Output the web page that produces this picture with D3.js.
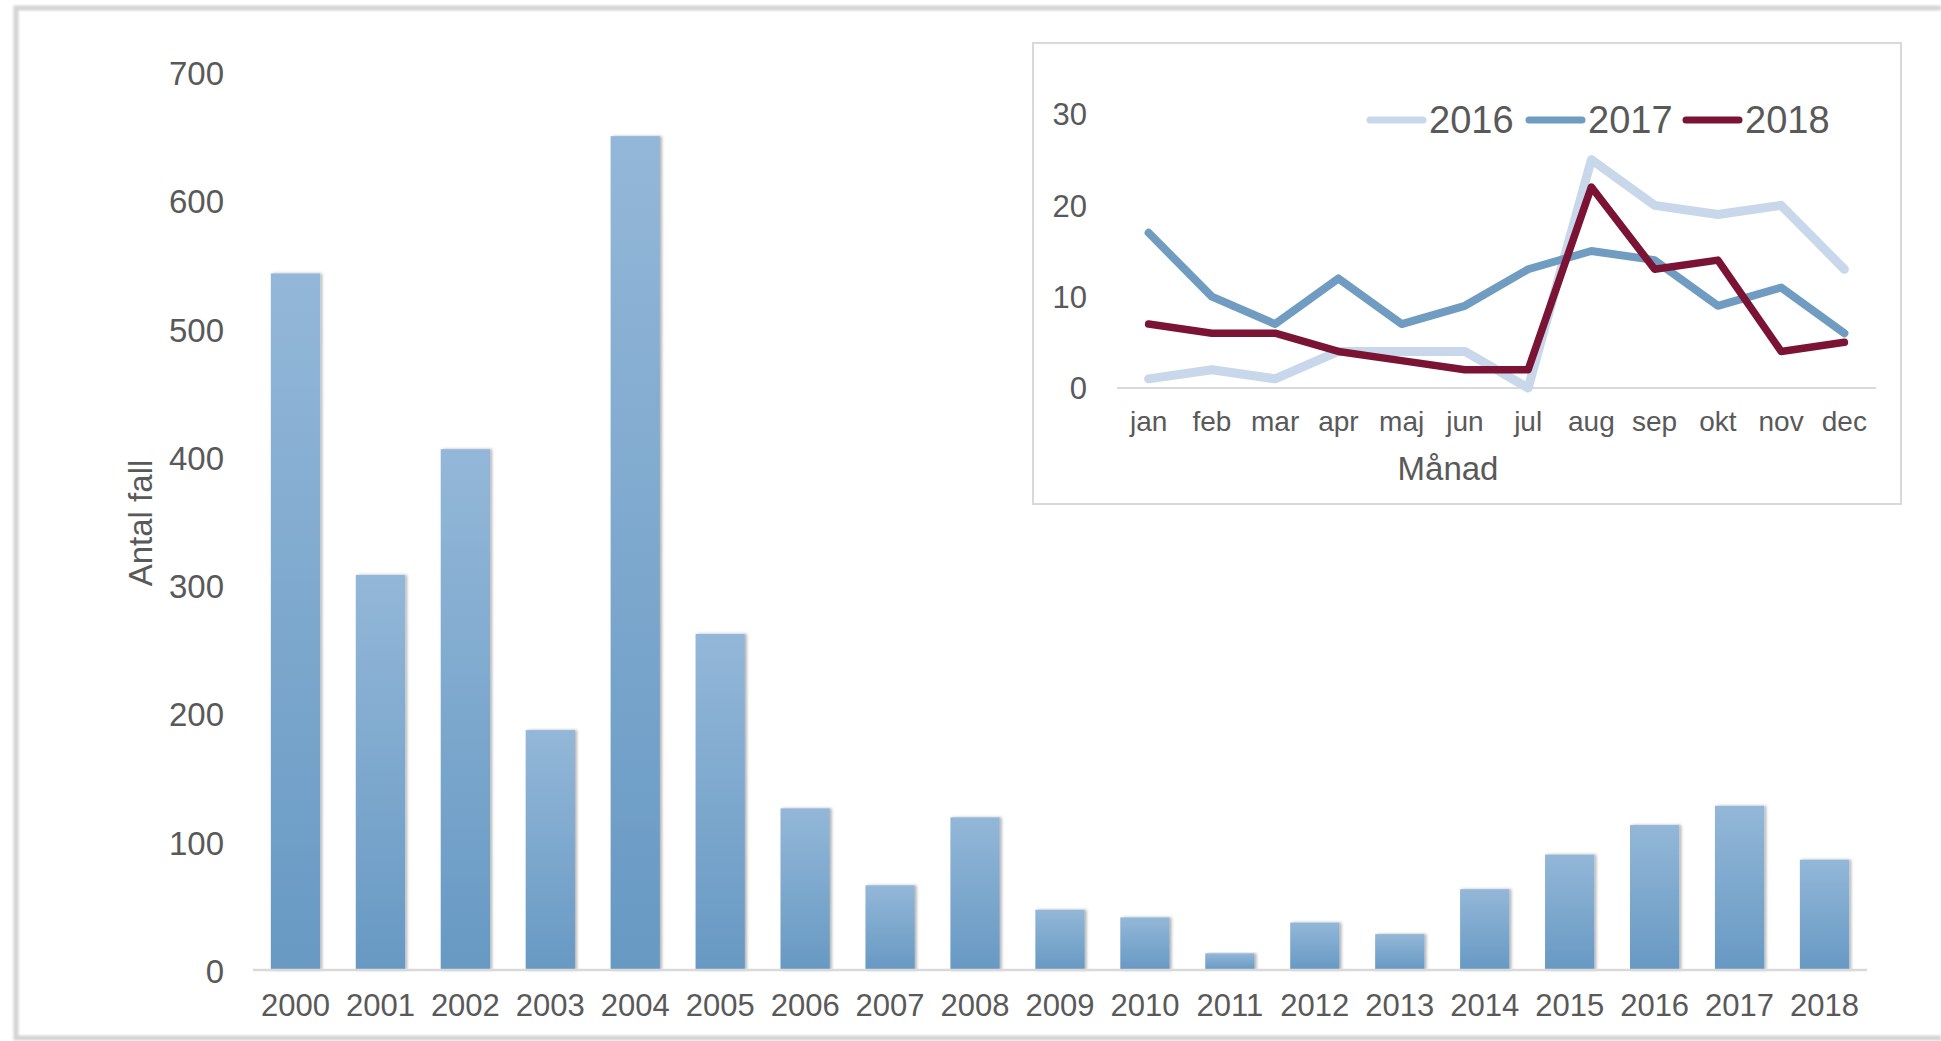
<!DOCTYPE html>
<html>
<head>
<meta charset="utf-8">
<script src="https://cdn.jsdelivr.net/npm/d3@7"></script>
<style>
    html, body { margin: 0; padding: 0; background: #fff; }
    svg { display: block; font-family: "Liberation Sans", Arial, sans-serif; }
</style>
</head>
<body>
<svg id="chart" width="1941" height="1041"></svg>
<script>
// Yearly totals (main bar chart)
const years = ["2000", "2001", "2002", "2003", "2004", "2005", "2006", "2007", "2008", "2009",
    "2010", "2011", "2012", "2013", "2014", "2015", "2016", "2017", "2018"];
const cases = [543, 308, 406, 187, 650, 262, 126, 66, 119, 47, 41, 13, 37, 28, 63, 90, 113, 128, 86];
const yTicks = [0, 100, 200, 300, 400, 500, 600, 700];

// Monthly counts (inset)
const months = ["jan", "feb", "mar", "apr", "maj", "jun", "jul", "aug", "sep", "okt", "nov", "dec"];
const cases2016 = [1, 2, 1, 4, 4, 4, 0, 25, 20, 19, 20, 13];
const cases2017 = [17, 10, 7, 12, 7, 9, 13, 15, 14, 9, 11, 6];
const cases2018 = [7, 6, 6, 4, 3, 2, 2, 22, 13, 14, 4, 5];
const seriesNames = ["2016", "2017", "2018"];
const insetTicks = [0, 10, 20, 30];

const textColor = "#595959";
const svg = d3.select("#chart");
const defs = svg.append("defs");

// soft edge for the frame
defs.append("filter").attr("id", "soft")
    .append("feGaussianBlur").attr("stdDeviation", 1.2);

const grad = defs.append("linearGradient").attr("id", "barGrad")
    .attr("x1", 0).attr("y1", 0).attr("x2", 0).attr("y2", 1);
grad.append("stop").attr("offset", "0%").attr("stop-color", "#93b7d8");
grad.append("stop").attr("offset", "100%").attr("stop-color", "#6799c3");

const shadow = defs.append("filter").attr("id", "barShadow")
    .attr("x", "-20%").attr("y", "-5%").attr("width", "150%").attr("height", "110%");
shadow.append("feDropShadow").attr("dx", 2).attr("dy", 0).attr("stdDeviation", 1.5)
    .attr("flood-color", "#000").attr("flood-opacity", 0.3);

// outer frame
svg.append("path")
    .attr("d", "M1941,8 L16,8 L16,1038 L1941,1038")
    .attr("fill", "none").attr("stroke", "#d4d4d4").attr("stroke-width", 5)
    .attr("filter", "url(#soft)");

// ---- main bar chart ----
const x = d3.scaleBand().domain(years).range([253, 1867]).paddingInner(0.42).paddingOuter(0.21);
const y = d3.scaleLinear().domain([0, 700]).range([970, 72]);

svg.append("g").selectAll("rect")
    .data(years)
    .join("rect")
    .attr("x", d => x(d))
    .attr("y", (d, i) => y(cases[i]))
    .attr("width", x.bandwidth())
    .attr("height", (d, i) => y(0) - y(cases[i]))
    .attr("fill", "url(#barGrad)")
    .attr("filter", "url(#barShadow)");

const xAxis = svg.append("g")
    .attr("transform", "translate(0," + y(0) + ")")
    .call(d3.axisBottom(x).tickSize(0).tickPadding(24));
xAxis.select(".domain").attr("stroke", "#d9d9d9").attr("stroke-width", 2.5).attr("d", "M253,0H1867");
xAxis.selectAll("text").attr("font-size", 31).attr("fill", textColor).attr("font-family", null);

const yAxis = svg.append("g")
    .attr("transform", "translate(224,2)")
    .call(d3.axisLeft(y).tickValues(yTicks).tickSize(0).tickPadding(0));
yAxis.select(".domain").remove();
yAxis.selectAll("text").attr("font-size", 33).attr("fill", textColor).attr("font-family", null);

svg.append("text")
    .attr("transform", "translate(140,523) rotate(-90)")
    .attr("text-anchor", "middle").attr("dy", "0.35em")
    .attr("font-size", 33).attr("fill", textColor)
    .text("Antal fall");

// ---- inset line chart ----
const inset = svg.append("g");
inset.append("rect")
    .attr("x", 1033).attr("y", 43).attr("width", 868).attr("height", 461)
    .attr("fill", "#fff").attr("stroke", "#d9d9d9").attr("stroke-width", 2);

const ix = d3.scaleBand().domain(months).range([1117, 1876]);
const iy = d3.scaleLinear().domain([0, 30]).range([388, 114]);

const ixAxis = inset.append("g")
    .attr("transform", "translate(0," + iy(0) + ")")
    .call(d3.axisBottom(ix).tickSize(0).tickPadding(23));
ixAxis.select(".domain").attr("stroke", "#d9d9d9").attr("stroke-width", 2).attr("d", "M1117,0H1876");
ixAxis.selectAll("text").attr("font-size", 28).attr("fill", textColor).attr("font-family", null);

const iyAxis = inset.append("g")
    .attr("transform", "translate(1087,1)")
    .call(d3.axisLeft(iy).tickValues(insetTicks).tickSize(0).tickPadding(0));
iyAxis.select(".domain").remove();
iyAxis.selectAll("text").attr("font-size", 31).attr("fill", textColor).attr("font-family", null);

inset.append("text")
    .attr("x", 1448).attr("y", 468).attr("dy", "0.35em")
    .attr("text-anchor", "middle").attr("font-size", 33).attr("fill", textColor)
    .text("Månad");

const series = [
    {name: seriesNames[0], values: cases2016, color: "#c8d7ea", width: 9},
    {name: seriesNames[1], values: cases2017, color: "#6f9cc0", width: 8},
    {name: seriesNames[2], values: cases2018, color: "#7b1434", width: 7.5}
];

const line = d3.line()
    .x((d, i) => ix(months[i]) + ix.bandwidth() / 2)
    .y(d => iy(d));

inset.append("g").selectAll("path")
    .data(series)
    .join("path")
    .attr("d", d => line(d.values))
    .attr("fill", "none")
    .attr("stroke", d => d.color)
    .attr("stroke-width", d => d.width)
    .attr("stroke-linejoin", "round")
    .attr("stroke-linecap", "round");

// legend
const legendX = [1367, 1526, 1683];
const legend = inset.append("g").selectAll("g")
    .data(series)
    .join("g")
    .attr("transform", (d, i) => "translate(" + legendX[i] + ",120)");
legend.append("line")
    .attr("x1", 3).attr("x2", 56).attr("y1", 0).attr("y2", 0)
    .attr("stroke", d => d.color).attr("stroke-width", 7).attr("stroke-linecap", "round");
legend.append("text")
    .attr("x", 62).attr("dy", "0.35em")
    .attr("font-size", 38).attr("fill", textColor)
    .text(d => d.name);
</script>
</body>
</html>
